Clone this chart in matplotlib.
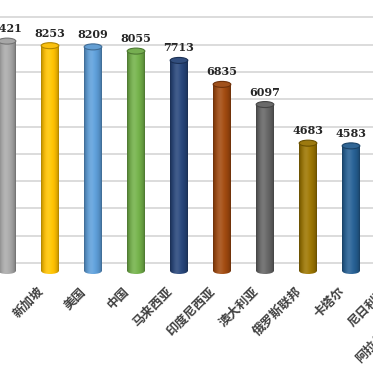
import numpy as np
import matplotlib
import matplotlib.pyplot as plt
from matplotlib.patches import Rectangle, Ellipse
from matplotlib.colors import to_rgb
import matplotlib.transforms as mtransforms

matplotlib.rcParams['font.family'] = ['Noto Sans CJK SC', 'DejaVu Sans']

# data (chart is a cropped view; first and last categories are partly cut off)
countries = ['日本', '新加坡', '美国', '中国', '马来西亚', '印度尼西亚', '澳大利亚',
             '俄罗斯联邦', '卡塔尔', '尼日利亚', '阿拉伯联合酋长国']
values = [8421, 8253, 8209, 8055, 7713, 6835, 6097, 4683, 4583]
colors = ['#A5A5A5', '#FFC000', '#5B9BD5', '#70AD47', '#264478',
          '#9E480E', '#636363', '#997300', '#255E91']

# pixel geometry of the crop
px_zero = 271.0      # pixel row of value 0
px_per_k = 27.3      # pixels per 1000
px_first = 7.0       # pixel column of first bar centre
px_step = 43.0       # pixels between bars
grid_shift = 290     # back wall grid offset (3d look)

fig = plt.figure(figsize=(3.73, 3.73), dpi=100)
ax = fig.add_axes([0, 0, 1, 1])
ax.set_xlim(-px_first / px_step, (373 - px_first) / px_step)
ax.set_ylim((px_zero - 373) / px_per_k * 1000, px_zero / px_per_k * 1000)
ax.axis('off')

for k in range(10):
    ax.axhline(grid_shift + 1000 * k, color='#D9D9D9', lw=1.3, zorder=0)

bar_w = 0.41
ell_h = 6 / px_per_k * 1000

def shade_strip(base):
    t = np.linspace(0, 1, 80)
    s = np.sin(np.pi * t) ** 0.5
    hl = np.exp(-((t - 0.38) / 0.2) ** 2)
    rgb = np.array(to_rgb(base))
    out = rgb[None, :] * (0.62 + 0.42 * s[:, None])
    out = out + (1 - out) * 0.12 * hl[:, None]
    return np.clip(out, 0, 1)[None, :, :]

for i, v in enumerate(values):
    c = colors[i]
    img = shade_strip(c)
    x0, x1 = i - bar_w / 2, i + bar_w / 2
    rect = Rectangle((x0, 0), bar_w, v, transform=ax.transData)
    im = ax.imshow(img, extent=(x0, x1, 0, v), aspect='auto', zorder=2,
                   interpolation='bilinear')
    im.set_clip_path(rect)
    bot = Ellipse((i, 0), bar_w, ell_h, transform=ax.transData)
    im2 = ax.imshow(img, extent=(x0, x1, -ell_h, 0), aspect='auto', zorder=2,
                    interpolation='bilinear')
    im2.set_clip_path(bot)
    rgb = np.array(to_rgb(c))
    top = Ellipse((i, v), bar_w, ell_h, facecolor=rgb * 0.92 + 0.06,
                  edgecolor=rgb * 0.7, lw=0.8, zorder=3)
    ax.add_patch(top)
    ax.annotate(str(v), (i, v), xytext=(0, 5), textcoords='offset points',
                ha='center', va='bottom', fontsize=8, fontweight='bold',
                family='DejaVu Serif', color='#262626', zorder=4)

label_y = (px_zero - 285) / px_per_k * 1000
shift = mtransforms.ScaledTranslation(-4 / 100, 0, fig.dpi_scale_trans)
for i, name in enumerate(countries):
    ax.text(i, label_y, name, rotation=45, ha='right', va='top',
            fontsize=9, fontweight='bold', color='#404040',
            transform=ax.transData + shift)

fig.savefig('out.png', dpi=100)
